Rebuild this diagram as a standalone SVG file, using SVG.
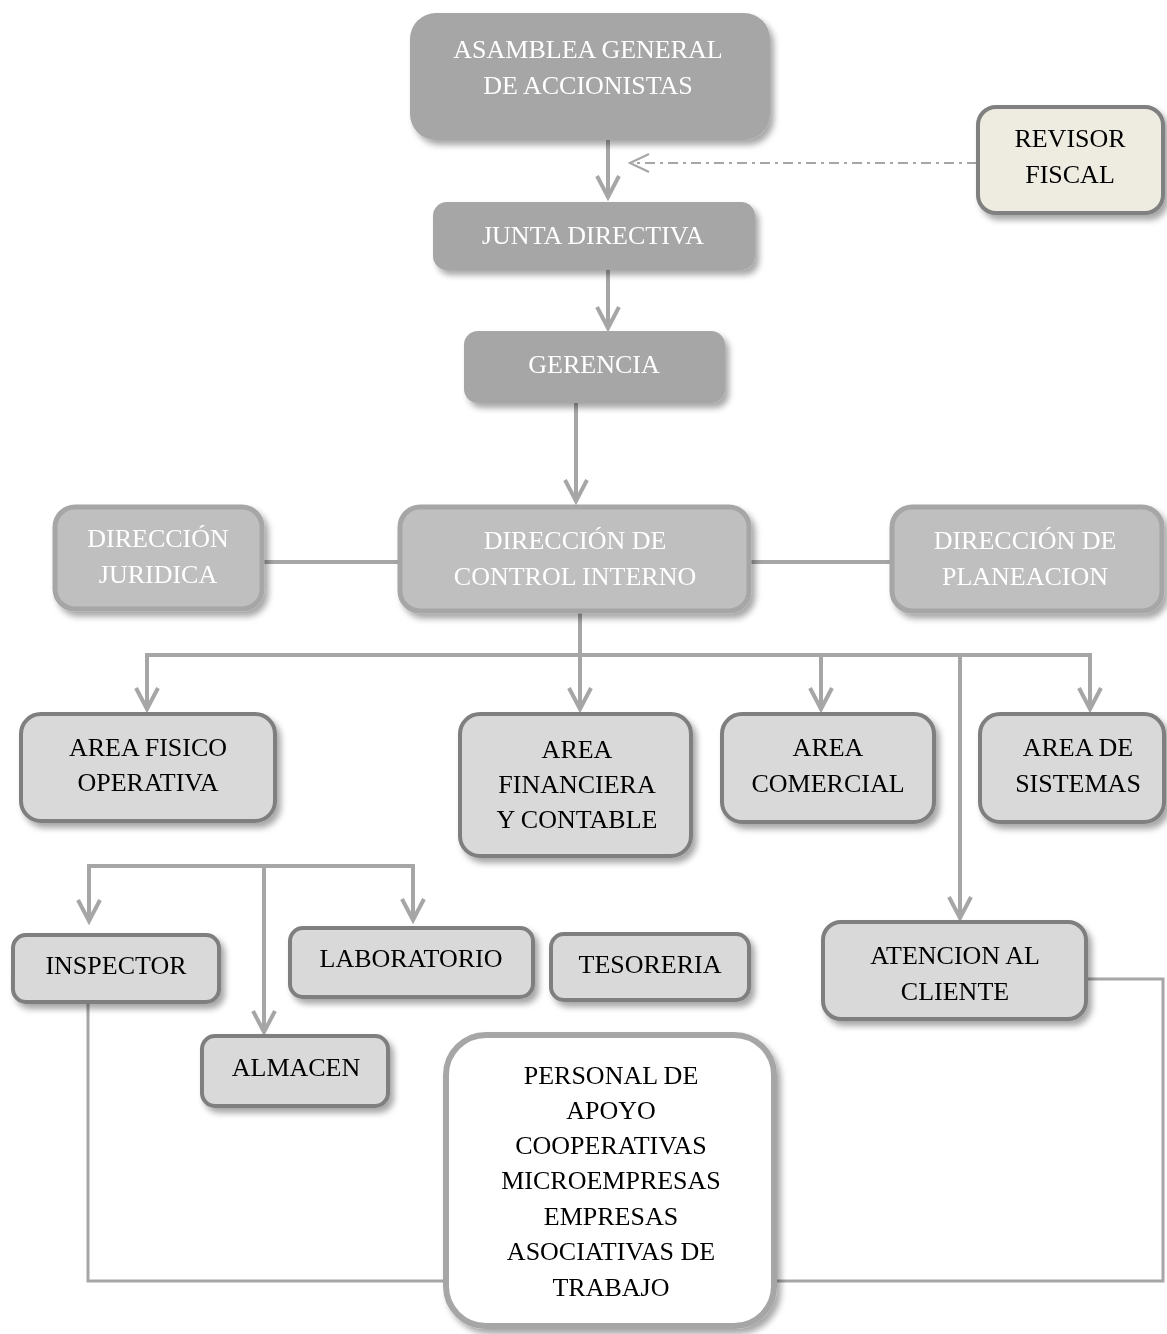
<svg xmlns="http://www.w3.org/2000/svg" width="1167" height="1334" viewBox="0 0 1167 1334">
<defs>
<filter id="sh" x="-10%" y="-10%" width="125%" height="130%">
<feDropShadow dx="4" dy="5" stdDeviation="3" flood-color="#000" flood-opacity="0.35"/>
</filter>
<marker id="arr" markerUnits="userSpaceOnUse" viewBox="0 0 28 28" markerWidth="28" markerHeight="28" refX="24" refY="14" orient="auto">
<path d="M3,3 L24,14 L3,25" fill="none" stroke="#a6a6a6" stroke-width="4"/>
</marker>
<marker id="arrThin" markerUnits="userSpaceOnUse" viewBox="0 0 24 24" markerWidth="24" markerHeight="24" refX="22" refY="12" orient="auto">
<path d="M3,3 L22,12 L3,21" fill="none" stroke="#a6a6a6" stroke-width="2"/>
</marker>
</defs>
<style>
text{font-family:"Liberation Serif","Times New Roman",serif;font-size:26px;text-anchor:middle}
.w{fill:#ffffff}
.b{fill:#000000}
.top{fill:#a6a6a6}
.dir{fill:#bfbfbf;stroke:#a6a6a6;stroke-width:5}
.area{fill:#d9d9d9;stroke:#7f7f7f;stroke-width:4}
.rev{fill:#eeece1;stroke:#808080;stroke-width:4}
.pers{fill:#ffffff;stroke:#a6a6a6;stroke-width:6}
.c{fill:none;stroke:#a6a6a6;stroke-width:4}
.ct{fill:none;stroke:#a6a6a6;stroke-width:3}
</style>
<rect width="1167" height="1334" fill="#ffffff"/>
<g id="connectors">
<line class="c" x1="608" y1="140" x2="608" y2="197" marker-end="url(#arr)"/>
<line x1="977" y1="163" x2="630" y2="163" fill="none" stroke="#a6a6a6" stroke-width="2" stroke-dasharray="10 5 3 5" marker-end="url(#arrThin)"/>
<line class="c" x1="608" y1="270" x2="608" y2="328" marker-end="url(#arr)"/>
<line class="c" x1="576" y1="403" x2="576" y2="501" marker-end="url(#arr)"/>
<line class="c" x1="263" y1="562" x2="398" y2="562"/>
<line class="c" x1="750" y1="562" x2="890" y2="562"/>
<line class="c" x1="580" y1="612" x2="580" y2="655"/>
<polyline class="c" points="147,709 147,655 1090,655 1090,709" marker-end="url(#arr)"/>
<line class="c" x1="147" y1="655" x2="147" y2="709" marker-end="url(#arr)"/>
<line class="c" x1="580" y1="655" x2="580" y2="709" marker-end="url(#arr)"/>
<line class="c" x1="821" y1="655" x2="821" y2="709" marker-end="url(#arr)"/>
<line class="c" x1="960" y1="655" x2="960" y2="918" marker-end="url(#arr)"/>
<polyline class="c" points="89,921 89,866 413,866 413,920"/>
<line class="c" x1="89" y1="866" x2="89" y2="921" marker-end="url(#arr)"/>
<line class="c" x1="413" y1="866" x2="413" y2="920" marker-end="url(#arr)"/>
<line class="c" x1="264" y1="866" x2="264" y2="1032" marker-end="url(#arr)"/>
<polyline class="ct" points="88,1003 88,1281 445,1281"/>
<polyline class="ct" points="1087,979 1163,979 1163,1281 775,1281"/>
</g>
<g id="asamblea" filter="url(#sh)">
<rect class="top" x="410" y="13" width="360" height="127" rx="26"/>
<text class="w" x="588" y="58">ASAMBLEA GENERAL</text>
<text class="w" x="588" y="94">DE ACCIONISTAS</text>
</g>
<g id="revisor" filter="url(#sh)">
<rect class="rev" x="978" y="107" width="185" height="106" rx="18"/>
<text class="b" x="1070" y="147">REVISOR</text>
<text class="b" x="1070" y="183">FISCAL</text>
</g>
<g id="junta" filter="url(#sh)">
<rect class="top" x="433" y="202" width="322" height="68" rx="14"/>
<text class="w" x="593" y="244">JUNTA DIRECTIVA</text>
</g>
<g id="gerencia" filter="url(#sh)">
<rect class="top" x="464" y="331" width="261" height="72" rx="14"/>
<text class="w" x="594" y="373">GERENCIA</text>
</g>
<g id="juridica" filter="url(#sh)">
<rect class="dir" x="55" y="507" width="207" height="102" rx="20"/>
<text class="w" x="158" y="547">DIRECCIÓN</text>
<text class="w" x="158" y="583">JURIDICA</text>
</g>
<g id="control" filter="url(#sh)">
<rect class="dir" x="400" y="507" width="349" height="104" rx="20"/>
<text class="w" x="575" y="549">DIRECCIÓN DE</text>
<text class="w" x="575" y="585">CONTROL INTERNO</text>
</g>
<g id="planeacion" filter="url(#sh)">
<rect class="dir" x="892" y="507" width="270" height="104" rx="20"/>
<text class="w" x="1025" y="549">DIRECCIÓN DE</text>
<text class="w" x="1025" y="585">PLANEACION</text>
</g>
<g id="fisico" filter="url(#sh)">
<rect class="area" x="21" y="714" width="254" height="107" rx="20"/>
<text class="b" x="148" y="756">AREA FISICO</text>
<text class="b" x="148" y="791">OPERATIVA</text>
</g>
<g id="financiera" filter="url(#sh)">
<rect class="area" x="460" y="714" width="231" height="142" rx="20"/>
<text class="b" x="577" y="758">AREA</text>
<text class="b" x="577" y="793">FINANCIERA</text>
<text class="b" x="577" y="828">Y CONTABLE</text>
</g>
<g id="comercial" filter="url(#sh)">
<rect class="area" x="722" y="714" width="212" height="108" rx="20"/>
<text class="b" x="828" y="756">AREA</text>
<text class="b" x="828" y="792">COMERCIAL</text>
</g>
<g id="sistemas" filter="url(#sh)">
<rect class="area" x="980" y="714" width="184" height="108" rx="20"/>
<text class="b" x="1078" y="756">AREA DE</text>
<text class="b" x="1078" y="792">SISTEMAS</text>
</g>
<g id="inspector" filter="url(#sh)">
<rect class="area" x="13" y="935" width="206" height="67" rx="13"/>
<text class="b" x="116" y="974">INSPECTOR</text>
</g>
<g id="laboratorio" filter="url(#sh)">
<rect class="area" x="290" y="928" width="243" height="69" rx="13"/>
<text class="b" x="411" y="967">LABORATORIO</text>
</g>
<g id="tesoreria" filter="url(#sh)">
<rect class="area" x="551" y="934" width="198" height="66" rx="13"/>
<text class="b" x="650" y="973">TESORERIA</text>
</g>
<g id="almacen" filter="url(#sh)">
<rect class="area" x="202" y="1036" width="186" height="70" rx="13"/>
<text class="b" x="296" y="1076">ALMACEN</text>
</g>
<g id="atencion" filter="url(#sh)">
<rect class="area" x="823" y="922" width="263" height="97" rx="18"/>
<text class="b" x="955" y="964">ATENCION AL</text>
<text class="b" x="955" y="1000">CLIENTE</text>
</g>
<g id="personal" filter="url(#sh)">
<rect class="pers" x="446" y="1035" width="328" height="291" rx="40"/>
<text class="b" x="611" y="1084">PERSONAL DE</text>
<text class="b" x="611" y="1119">APOYO</text>
<text class="b" x="611" y="1154">COOPERATIVAS</text>
<text class="b" x="611" y="1189">MICROEMPRESAS</text>
<text class="b" x="611" y="1225">EMPRESAS</text>
<text class="b" x="611" y="1260">ASOCIATIVAS DE</text>
<text class="b" x="611" y="1296">TRABAJO</text>
</g>
</svg>
